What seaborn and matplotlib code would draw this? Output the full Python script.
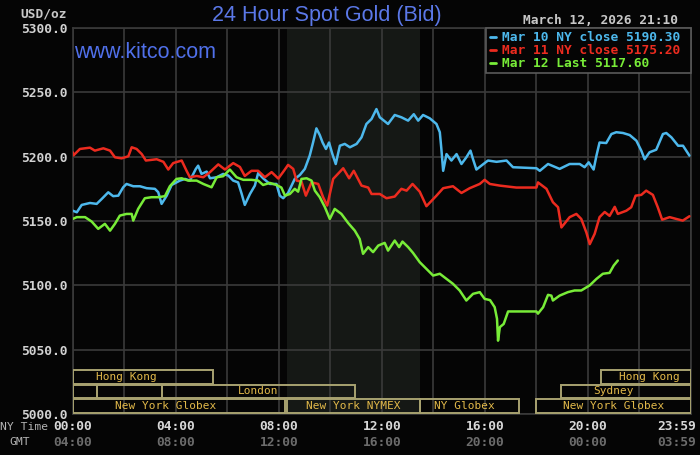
import numpy as np
import pandas as pd
import matplotlib
matplotlib.use("Agg")
import matplotlib.pyplot as plt
import seaborn as sns
from matplotlib.patches import Rectangle
from matplotlib.lines import Line2D
from matplotlib.font_manager import FontProperties

# ---------------- data ----------------
series_names = ["Mar 10 NY close", "Mar 11 NY close", "Mar 12 Last"]
series_last = [5190.30, 5175.20, 5117.60]

mar10_hours = [0, 0.16, 0.35, 0.67, 0.93, 1.12, 1.38, 1.57, 1.77, 1.96,
               2.09, 2.35, 2.61, 2.87, 3.19, 3.32, 3.45, 3.65, 3.84, 4.16,
               4.36, 4.55, 4.78, 4.87, 5.0, 5.2, 5.33, 5.59, 5.84, 6.04,
               6.23, 6.42, 6.56, 6.68, 6.88, 7.07, 7.2, 7.39, 7.65, 7.91,
               8.04, 8.17, 8.36, 8.62, 8.82, 9.01, 9.2, 9.33, 9.46, 9.59,
               9.7, 9.83, 9.95, 10.08, 10.21, 10.37, 10.56, 10.76, 11.02, 11.21,
               11.4, 11.6, 11.79, 11.92, 12.24, 12.5, 12.76, 13.02, 13.24, 13.41,
               13.6, 13.86, 14.12, 14.25, 14.31, 14.38, 14.51, 14.7, 14.9, 15.09,
               15.28, 15.44, 15.54, 15.67, 15.86, 16.12, 16.45, 16.84, 17.09, 18.0,
               18.13, 18.45, 18.9, 19.29, 19.68, 19.87, 20.03, 20.22, 20.33, 20.45,
               20.71, 20.91, 21.1, 21.36, 21.62, 21.88, 22.07, 22.2, 22.39, 22.65,
               22.91, 23.04, 23.24, 23.5, 23.69, 23.94]
mar10_price = [5158, 5156.8, 5162.5, 5164, 5163.3, 5167, 5172.3, 5169.3, 5169.7, 5176.2,
               5178.8, 5177, 5177, 5175.5, 5175, 5172.4, 5163.3, 5169.7, 5178, 5181.4,
               5182.7, 5181.4, 5190.5, 5193, 5186.6, 5188.4, 5183.2, 5184, 5186.6, 5185.3,
               5181.4, 5180, 5171, 5162.5, 5171, 5177.5, 5187.3, 5183.2, 5178.8, 5178.8,
               5169.7, 5167.7, 5171.8, 5182.7, 5185.8, 5190.5, 5200.8, 5211, 5222, 5216.8,
               5211, 5206, 5211, 5202, 5194.3, 5208.5, 5209.9, 5207.3, 5209.9, 5215,
               5225.4, 5229.3, 5237, 5230.6, 5225.4, 5232.4, 5230.6, 5228, 5233, 5228,
               5232.4, 5229.8, 5225.4, 5219, 5206, 5189, 5202, 5197, 5202, 5194.3,
               5199.5, 5204.7, 5198, 5190, 5193, 5197, 5196, 5197, 5191.8, 5191,
               5189, 5194.3, 5190.5, 5194.3, 5194.3, 5191.8, 5195.6, 5190, 5200.8, 5211,
               5210.6, 5217.6, 5219, 5218.4, 5216.8, 5212.4, 5204.7, 5198, 5203.4, 5205.4,
               5217.6, 5218.4, 5215, 5208.5, 5208.5, 5200.8]

mar11_hours = [0, 0.03, 0.28, 0.67, 0.86, 1.19, 1.45, 1.64, 1.9, 2.16,
               2.29, 2.48, 2.68, 2.84, 3.26, 3.52, 3.71, 3.9, 4.23, 4.42,
               4.55, 4.81, 5.07, 5.33, 5.65, 5.91, 6.23, 6.49, 6.68, 6.94,
               7.2, 7.46, 7.72, 7.98, 8.2, 8.36, 8.56, 8.69, 8.88, 9.05,
               9.27, 9.53, 9.72, 9.88, 10.11, 10.5, 10.73, 10.91, 11.21, 11.47,
               11.6, 11.92, 12.18, 12.5, 12.76, 12.96, 13.19, 13.47, 13.73, 14.12,
               14.38, 14.76, 15.09, 15.41, 15.8, 15.99, 16.19, 16.58, 17.22, 18.0,
               18.06, 18.39, 18.64, 18.84, 18.97, 19.29, 19.55, 19.74, 19.94, 20.07,
               20.26, 20.45, 20.65, 20.84, 21.04, 21.16, 21.49, 21.68, 21.85, 22.07,
               22.26, 22.52, 22.71, 22.88, 23.17, 23.43, 23.68, 23.94]
mar11_price = [5203.4, 5201, 5206, 5207, 5204.7, 5206.5, 5204.7, 5199.5, 5198.7, 5200.3,
               5207.3, 5206, 5202, 5197, 5198, 5196, 5190, 5195, 5197, 5189,
               5184, 5185, 5184, 5188, 5194, 5190, 5195, 5192, 5185, 5189,
               5189, 5184, 5188, 5183, 5189, 5193.6, 5190.5, 5181.4, 5180.6, 5169.7,
               5180, 5178.8, 5168.5, 5162, 5182.7, 5191, 5183.2, 5189, 5177.5, 5176,
               5171, 5171, 5167.7, 5169, 5175, 5173.6, 5178.8, 5172.8, 5161.5, 5169.7,
               5175.5, 5177, 5171.8, 5175.5, 5178.8, 5182, 5178.8, 5177.5, 5176, 5176,
               5180, 5175, 5164.6, 5160.7, 5145, 5153, 5155.5, 5151.6, 5141, 5132,
               5140, 5153, 5157, 5154, 5161, 5155.5, 5158, 5160.7, 5169.7, 5170.3,
               5173.6, 5170.3, 5160.7, 5151, 5153, 5151.6, 5150.3, 5153.7]

mar12_hours = [0, 0.16, 0.48, 0.74, 0.99, 1.25, 1.45, 1.64, 1.83, 2.09,
               2.29, 2.35, 2.54, 2.8, 3.06, 3.32, 3.58, 3.77, 4.03, 4.23,
               4.48, 4.81, 5.07, 5.39, 5.59, 5.84, 6.1, 6.36, 6.62, 6.94,
               7.2, 7.39, 7.65, 7.91, 8.1, 8.24, 8.43, 8.62, 8.75, 8.88,
               9.08, 9.27, 9.4, 9.59, 9.79, 9.98, 10.17, 10.43, 10.69, 10.95,
               11.14, 11.27, 11.47, 11.66, 11.86, 12.11, 12.24, 12.5, 12.67, 12.8,
               13.02, 13.21, 13.47, 13.73, 13.99, 14.25, 14.51, 14.76, 15.02, 15.28,
               15.54, 15.8, 15.99, 16.2, 16.38, 16.47, 16.51, 16.58, 16.73, 16.9,
               17.22, 18.0, 18.06, 18.26, 18.45, 18.58, 18.64, 18.9, 19.22, 19.48,
               19.74, 20.07, 20.33, 20.58, 20.84, 21.0, 21.16]
mar12_price = [5151.6, 5153, 5153, 5149.5, 5143.9, 5147.8, 5142.5, 5147.8, 5154.2, 5155.5,
               5155.5, 5150.3, 5159.4, 5167.7, 5168.5, 5168.5, 5169.3, 5177, 5182.7, 5183.2,
               5181.4, 5181.4, 5178.8, 5176.2, 5184, 5184.8, 5190, 5184, 5182, 5182,
               5181.4, 5178, 5179.6, 5178, 5176, 5169.7, 5171, 5175, 5172.8, 5182.7,
               5183.2, 5181.4, 5173.6, 5168.5, 5160.7, 5151.6, 5159.4, 5155.5, 5148.5, 5142.5,
               5136, 5124.5, 5129.7, 5125.8, 5130.9, 5133, 5127, 5134.8, 5129.7, 5134,
               5129.7, 5125.2, 5118, 5112.8, 5107.6, 5109, 5105, 5101.2, 5096, 5088.2,
               5093.4, 5094.7, 5089.5, 5088.5, 5083, 5074, 5057, 5067.5, 5070, 5079.7,
               5079.7, 5079.7, 5078, 5083, 5092.6, 5092, 5088.2, 5092, 5094.7, 5096,
               5096, 5100, 5105, 5109, 5109.7, 5115.4, 5119.3]

ny_time_labels = ["00:00", "04:00", "08:00", "12:00", "16:00", "20:00", "23:59"]
gmt_labels = ["04:00", "08:00", "12:00", "16:00", "20:00", "00:00", "03:59"]

session_names = ["Hong Kong", "Hong Kong", "", "", "London", "Sydney",
                 "New York Globex", "New York NYMEX", "NY Globex", "New York Globex"]
session_start = [0, 20.5, 0, 0.94, 3.47, 18.95, 0, 8.3, 13.5, 18.0]
session_end = [5.45, 24, 0.94, 3.47, 10.95, 24, 8.25, 13.5, 17.32, 24]
session_row = [2, 2, 1, 1, 1, 1, 0, 0, 0, 0]
session_label_at = [2.1, 22.4, 0, 0, 7.2, 21.0, 3.6, 10.9, 15.2, 21.0]

# ---------------- style ----------------
BG = "#050505"
GRID = "#3a3a3a"
colors = {"Mar 10 NY close": "#4db8ec", "Mar 11 NY close": "#ec2b1f", "Mar 12 Last": "#78ec38"}
MONO = "DejaVu Sans Mono"

sns.set_theme(style="dark", rc={"axes.facecolor": BG, "figure.facecolor": BG,
                                 "axes.edgecolor": GRID, "grid.color": GRID})
plt.rcParams["font.family"] = ["DejaVu Sans Mono", "DejaVu Sans"]

for a, b in [(mar10_hours, mar10_price), (mar11_hours, mar11_price), (mar12_hours, mar12_price)]:
    assert len(a) == len(b), (len(a), len(b))

df = pd.concat([
    pd.DataFrame({"hour": mar10_hours, "price": mar10_price, "series": series_names[0]}),
    pd.DataFrame({"hour": mar11_hours, "price": mar11_price, "series": series_names[1]}),
    pd.DataFrame({"hour": mar12_hours, "price": mar12_price, "series": series_names[2]}),
], ignore_index=True)

W, H = 700, 455
fig = plt.figure(figsize=(W / 100, H / 100), dpi=100, facecolor=BG)
ax = fig.add_axes([72.7 / W, 41 / H, 618.3 / W, 386 / H])
ax.set_facecolor(BG)

ax.axvspan(8.33, 13.5, color="#151815", zorder=0.2, lw=0)

sns.lineplot(data=df, x="hour", y="price", hue="series", hue_order=series_names,
             palette=colors, estimator=None, sort=False, legend=False,
             linewidth=1.8, ax=ax, zorder=3)

ax.set_xlim(0, 24)
ax.set_ylim(5000, 5300)
ax.set_xlabel("")
ax.set_ylabel("")
ax.set_xticks(np.arange(0, 25, 2))
ax.set_xticklabels([])
ax.set_yticks(np.arange(5000, 5301, 50))
ax.set_yticklabels([f"{v:.1f}" for v in np.arange(5000, 5301, 50)],
                   fontfamily=MONO, fontweight="bold", fontsize=9.3, color="#d2d2d2")
ax.tick_params(axis="both", length=0, pad=4)
ax.grid(True, color=GRID, lw=1.2)
ax.set_axisbelow(True)
for s in ax.spines.values():
    s.set_color(GRID)
    s.set_linewidth(1.2)

# session boxes
row_h = 10.6
for name, s0, s1, r, lx in zip(session_names, session_start, session_end, session_row, session_label_at):
    y0 = 5001.0 + r * 11.3
    ax.add_patch(Rectangle((s0, y0), s1 - s0, row_h, fill=False, edgecolor="#a8a270",
                           lw=1.4, zorder=4))
    if name:
        ax.text(lx, y0 + row_h / 2, name, ha="center", va="center", fontsize=8,
                fontfamily=MONO, color="#e2b94a", zorder=5)

# x labels
xt = ax.get_xaxis_transform()
hours_pos = [0, 4, 8, 12, 16, 20, 24.2]
for i, (p, ny, g) in enumerate(zip(hours_pos, ny_time_labels, gmt_labels)):
    ha = "right" if i == len(hours_pos) - 1 else "center"
    ax.text(p, -13 / 386, ny, transform=xt, ha=ha, va="center", fontsize=9.3,
            fontweight="bold", fontfamily=MONO, color="#d8d8d8", clip_on=False)
    ax.text(p, -28 / 386, g, transform=xt, ha=ha, va="center", fontsize=9.3,
            fontweight="bold", fontfamily=MONO, color="#6c6c6c", clip_on=False)
fig.text(0 / W, 1 - 427 / H, "NY Time", ha="left", va="center", fontsize=8.2,
         fontfamily=MONO, color="#b4b4b4")
fig.text(20 / W, 1 - 442 / H, "GMT", ha="center", va="center", fontsize=8.2,
         fontfamily=MONO, color="#b4b4b4")

# header texts
fig.text(67 / W, 1 - 14 / H, "USD/oz", ha="right", va="center", fontsize=9.3,
         fontweight="bold", fontfamily=MONO, color="#c8c8c8")
fig.text(678 / W, 1 - 20 / H, "March 12, 2026 21:10", ha="right", va="center",
         fontsize=9.3, fontweight="bold", fontfamily=MONO, color="#c8c8c8")
fig.text(327 / W, 1 - 16 / H, "24 Hour Spot Gold (Bid)", ha="center", va="center",
         fontsize=15.5, fontfamily="Liberation Sans", color="#5b78e8")
ax.text(74 / W, 1 - 53 / H, "www.kitco.com", transform=fig.transFigure, ha="left",
        va="center", fontsize=15.5, fontfamily="Liberation Sans", color="#5070ea", zorder=6)

# legend
handles = [Line2D([0], [0], color=colors[n], lw=2) for n in series_names]
labels = [f"{n} {v:.2f} " for n, v in zip(series_names, series_last)]
leg = ax.legend(handles, labels, loc="upper right", bbox_to_anchor=(1, 1),
                borderaxespad=0, frameon=True, fancybox=False, facecolor=BG,
                edgecolor="#5a5a5a", framealpha=1,
                prop=FontProperties(family=MONO, weight="bold", size=9.3),
                labelcolor=[colors[n] for n in series_names],
                handlelength=0.5, handletextpad=0.45, labelspacing=0.0,
                borderpad=0.25)
leg.set_zorder(10)
leg.get_frame().set_linewidth(1.2)

fig.savefig("out.png", dpi=100, facecolor=BG)
